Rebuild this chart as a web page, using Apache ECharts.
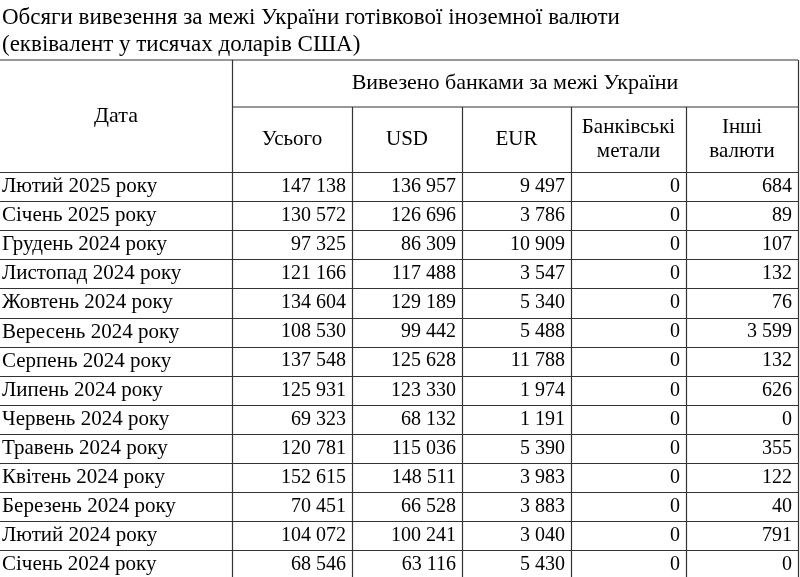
<!DOCTYPE html>
<html lang="uk">
<head>
<meta charset="UTF-8">
<title>Table</title>
<script src="https://cdn.jsdelivr.net/npm/echarts@6/dist/echarts.min.js"></script>
<style>html,body{margin:0;background:#fff}</style>
</head>
<body>
<div id="main" style="width:800px;height:577px;"></div>
<script>
var titleLines = ['Обсяги вивезення за межі України готівкової іноземної валюти', '(еквівалент у тисячах доларів США)'];
var groupHeader = 'Вивезено банками за межі України';
var colHeaders = ['Дата', 'Усього', 'USD', 'EUR', 'Банківські\nметали', 'Інші\nвалюти'];
var dates = ['Лютий 2025 року', 'Січень 2025 року', 'Грудень 2024 року', 'Листопад 2024 року', 'Жовтень 2024 року',
    'Вересень 2024 року', 'Серпень 2024 року', 'Липень 2024 року', 'Червень 2024 року', 'Травень 2024 року',
    'Квітень 2024 року', 'Березень 2024 року', 'Лютий 2024 року', 'Січень 2024 року'];
var total = [147138, 130572, 97325, 121166, 134604, 108530, 137548, 125931, 69323, 120781, 152615, 70451, 104072, 68546];
var usd = [136957, 126696, 86309, 117488, 129189, 99442, 125628, 123330, 68132, 115036, 148511, 66528, 100241, 63116];
var eur = [9497, 3786, 10909, 3547, 5340, 5488, 11788, 1974, 1191, 5390, 3983, 3883, 3040, 5430];
var metals = [0, 0, 0, 0, 0, 0, 0, 0, 0, 0, 0, 0, 0, 0];
var other = [684, 89, 107, 132, 76, 3599, 132, 626, 0, 355, 122, 40, 791, 0];

var colX = [0, 232, 352, 462, 571, 686, 798];
var topY = 60, head1 = 107, head2 = 172, rowH = 29.1;
var font = '"Liberation Serif", "Times New Roman", serif';

function fmt(v) { return String(v).replace(/\B(?=(\d{3})+(?!\d))/g, ' '); }
function line(x1, y1, x2, y2) {
    return { type: 'line', shape: { x1: x1, y1: y1, x2: x2, y2: y2 }, style: { stroke: '#333', lineWidth: 1.2 }, silent: true };
}
function text(s, x, y, align, size, vAlign) {
    return { type: 'text', x: x, y: y, style: { text: s, font: size + 'px ' + font, fill: '#000', align: align, verticalAlign: vAlign || 'middle', lineHeight: 24 } };
}

var els = [];
titleLines.forEach(function (t, i) { els.push(text(t, 2, 18 + i * 27, 'left', 23)); });

var bottom = head2 + dates.length * rowH;
els.push(line(0, topY, colX[6], topY));
els.push(line(colX[1], head1, colX[6], head1));
for (var r = 0; r <= dates.length; r++) {
    var y = Math.round(head2 + r * rowH) + 0.5;
    els.push(line(0, y, colX[6], y));
}
els.push(line(colX[1] + 0.5, topY, colX[1] + 0.5, bottom));
els.push(line(colX[6] + 0.5, topY, colX[6] + 0.5, bottom));
for (var c = 2; c < 6; c++) els.push(line(colX[c] + 0.5, head1, colX[c] + 0.5, bottom));

els.push(text(groupHeader, (colX[1] + colX[6]) / 2, (topY + head1) / 2, 'center', 22));
els.push(text(colHeaders[0], colX[1] / 2, 116, 'center', 22));
for (c = 1; c < 6; c++) els.push(text(colHeaders[c], (colX[c] + colX[c + 1]) / 2, (head1 + head2) / 2, 'center', 21));

var cols = [total, usd, eur, metals, other];
dates.forEach(function (d, i) {
    var cy = head2 + (i + 0.5) * rowH;
    els.push(text(d, 2, cy, 'left', 21));
    cols.forEach(function (arr, k) {
        els.push(text(fmt(arr[i]), colX[k + 2] - 6, cy, 'right', 20));
    });
});

var myChart = echarts.init(document.getElementById('main'));
myChart.setOption({ backgroundColor: '#fff', animation: false, graphic: { elements: els } });
</script>
</body>
</html>
